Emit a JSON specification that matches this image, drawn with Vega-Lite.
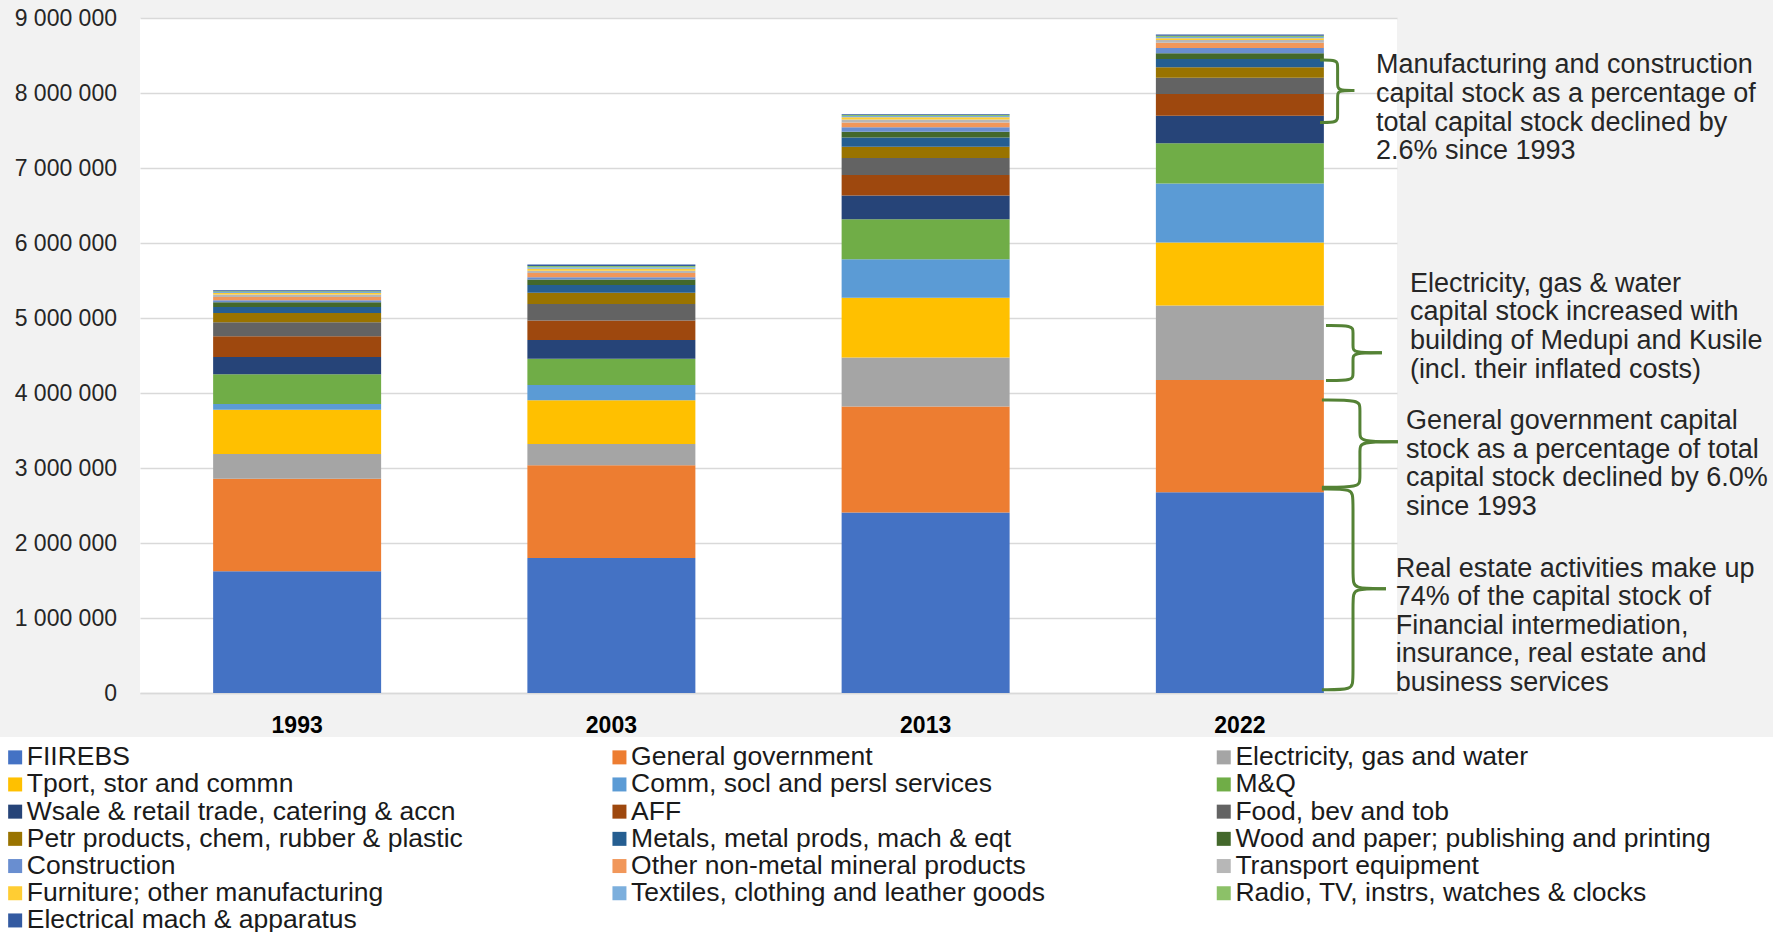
{
  "$schema": "https://vega.github.io/schema/vega-lite/v6.json",
  "autosize": {"type": "none"},
  "width": 1257,
  "height": 675,
  "padding": {"left": 140, "top": 18, "right": 376, "bottom": 239},
  "background": "#f2f2f2",
  "config": {
    "view": {"fill": "white", "stroke": null},
    "font": "Liberation Sans",
    "locale": {"number": {"decimal": ".", "thousands": " ", "grouping": [3], "currency": ["", ""]}}
  },
  "datasets": {
    "stock": [
      {"year": "1993", "k": 1, "sector": "FIIREBS", "value": 1622000},
      {"year": "1993", "k": 2, "sector": "General government", "value": 1236000},
      {"year": "1993", "k": 3, "sector": "Electricity, gas and water", "value": 329000},
      {"year": "1993", "k": 4, "sector": "Tport, stor and commn", "value": 591000},
      {"year": "1993", "k": 5, "sector": "Comm, socl and persl services", "value": 76000},
      {"year": "1993", "k": 6, "sector": "M&Q", "value": 396000},
      {"year": "1993", "k": 7, "sector": "Wsale & retail trade, catering & accn", "value": 231000},
      {"year": "1993", "k": 8, "sector": "AFF", "value": 276000},
      {"year": "1993", "k": 9, "sector": "Food, bev and tob", "value": 187000},
      {"year": "1993", "k": 10, "sector": "Petr products, chem, rubber & plastic", "value": 124000},
      {"year": "1993", "k": 11, "sector": "Metals, metal prods, mach & eqt", "value": 80000},
      {"year": "1993", "k": 12, "sector": "Wood and paper; publishing and printing", "value": 62000},
      {"year": "1993", "k": 13, "sector": "Construction", "value": 27000},
      {"year": "1993", "k": 14, "sector": "Other non-metal mineral products", "value": 44000},
      {"year": "1993", "k": 15, "sector": "Transport equipment", "value": 31000},
      {"year": "1993", "k": 16, "sector": "Furniture; other manufacturing", "value": 22000},
      {"year": "1993", "k": 17, "sector": "Textiles, clothing and leather goods", "value": 13000},
      {"year": "1993", "k": 18, "sector": "Radio, TV, instrs, watches & clocks", "value": 9000},
      {"year": "1993", "k": 19, "sector": "Electrical mach & apparatus", "value": 13000},
      {"year": "2003", "k": 1, "sector": "FIIREBS", "value": 1800000},
      {"year": "2003", "k": 2, "sector": "General government", "value": 1236000},
      {"year": "2003", "k": 3, "sector": "Electricity, gas and water", "value": 284000},
      {"year": "2003", "k": 4, "sector": "Tport, stor and commn", "value": 582000},
      {"year": "2003", "k": 5, "sector": "Comm, socl and persl services", "value": 204000},
      {"year": "2003", "k": 6, "sector": "M&Q", "value": 351000},
      {"year": "2003", "k": 7, "sector": "Wsale & retail trade, catering & accn", "value": 249000},
      {"year": "2003", "k": 8, "sector": "AFF", "value": 262000},
      {"year": "2003", "k": 9, "sector": "Food, bev and tob", "value": 218000},
      {"year": "2003", "k": 10, "sector": "Petr products, chem, rubber & plastic", "value": 151000},
      {"year": "2003", "k": 11, "sector": "Metals, metal prods, mach & eqt", "value": 102000},
      {"year": "2003", "k": 12, "sector": "Wood and paper; publishing and printing", "value": 76000},
      {"year": "2003", "k": 13, "sector": "Construction", "value": 27000},
      {"year": "2003", "k": 14, "sector": "Other non-metal mineral products", "value": 58000},
      {"year": "2003", "k": 15, "sector": "Transport equipment", "value": 31000},
      {"year": "2003", "k": 16, "sector": "Furniture; other manufacturing", "value": 27000},
      {"year": "2003", "k": 17, "sector": "Textiles, clothing and leather goods", "value": 18000},
      {"year": "2003", "k": 18, "sector": "Radio, TV, instrs, watches & clocks", "value": 18000},
      {"year": "2003", "k": 19, "sector": "Electrical mach & apparatus", "value": 18000},
      {"year": "2013", "k": 1, "sector": "FIIREBS", "value": 2408000},
      {"year": "2013", "k": 2, "sector": "General government", "value": 1413000},
      {"year": "2013", "k": 3, "sector": "Electricity, gas and water", "value": 653000},
      {"year": "2013", "k": 4, "sector": "Tport, stor and commn", "value": 796000},
      {"year": "2013", "k": 5, "sector": "Comm, socl and persl services", "value": 515000},
      {"year": "2013", "k": 6, "sector": "M&Q", "value": 531000},
      {"year": "2013", "k": 7, "sector": "Wsale & retail trade, catering & accn", "value": 316000},
      {"year": "2013", "k": 8, "sector": "AFF", "value": 276000},
      {"year": "2013", "k": 9, "sector": "Food, bev and tob", "value": 224000},
      {"year": "2013", "k": 10, "sector": "Petr products, chem, rubber & plastic", "value": 153000},
      {"year": "2013", "k": 11, "sector": "Metals, metal prods, mach & eqt", "value": 122000},
      {"year": "2013", "k": 12, "sector": "Wood and paper; publishing and printing", "value": 77000},
      {"year": "2013", "k": 13, "sector": "Construction", "value": 61000},
      {"year": "2013", "k": 14, "sector": "Other non-metal mineral products", "value": 61000},
      {"year": "2013", "k": 15, "sector": "Transport equipment", "value": 41000},
      {"year": "2013", "k": 16, "sector": "Furniture; other manufacturing", "value": 31000},
      {"year": "2013", "k": 17, "sector": "Textiles, clothing and leather goods", "value": 15000},
      {"year": "2013", "k": 18, "sector": "Radio, TV, instrs, watches & clocks", "value": 15000},
      {"year": "2013", "k": 19, "sector": "Electrical mach & apparatus", "value": 10000},
      {"year": "2022", "k": 1, "sector": "FIIREBS", "value": 2676000},
      {"year": "2022", "k": 2, "sector": "General government", "value": 1499000},
      {"year": "2022", "k": 3, "sector": "Electricity, gas and water", "value": 991000},
      {"year": "2022", "k": 4, "sector": "Tport, stor and commn", "value": 840000},
      {"year": "2022", "k": 5, "sector": "Comm, socl and persl services", "value": 787000},
      {"year": "2022", "k": 6, "sector": "M&Q", "value": 536000},
      {"year": "2022", "k": 7, "sector": "Wsale & retail trade, catering & accn", "value": 368000},
      {"year": "2022", "k": 8, "sector": "AFF", "value": 291000},
      {"year": "2022", "k": 9, "sector": "Food, bev and tob", "value": 216000},
      {"year": "2022", "k": 10, "sector": "Petr products, chem, rubber & plastic", "value": 140000},
      {"year": "2022", "k": 11, "sector": "Metals, metal prods, mach & eqt", "value": 111000},
      {"year": "2022", "k": 12, "sector": "Wood and paper; publishing and printing", "value": 76000},
      {"year": "2022", "k": 13, "sector": "Construction", "value": 70000},
      {"year": "2022", "k": 14, "sector": "Other non-metal mineral products", "value": 70000},
      {"year": "2022", "k": 15, "sector": "Transport equipment", "value": 35000},
      {"year": "2022", "k": 16, "sector": "Furniture; other manufacturing", "value": 23000},
      {"year": "2022", "k": 17, "sector": "Textiles, clothing and leather goods", "value": 18000},
      {"year": "2022", "k": 18, "sector": "Radio, TV, instrs, watches & clocks", "value": 17000},
      {"year": "2022", "k": 19, "sector": "Electrical mach & apparatus", "value": 17000}
    ],
    "braces": [
      {"seg": "b1t", "i": 0, "x": 3.755, "y": 8440000},
      {"seg": "b1t", "i": 1, "x": 3.811, "y": 8440000},
      {"seg": "b1t", "i": 2, "x": 3.811, "y": 8360000},
      {"seg": "b1t", "i": 3, "x": 3.811, "y": 8115000},
      {"seg": "b1t", "i": 4, "x": 3.811, "y": 8035000},
      {"seg": "b1t", "i": 5, "x": 3.864, "y": 8035000},
      {"seg": "b1b", "i": 0, "x": 3.755, "y": 7607000},
      {"seg": "b1b", "i": 1, "x": 3.811, "y": 7607000},
      {"seg": "b1b", "i": 2, "x": 3.811, "y": 7687000},
      {"seg": "b1b", "i": 3, "x": 3.811, "y": 7955000},
      {"seg": "b1b", "i": 4, "x": 3.811, "y": 8035000},
      {"seg": "b1b", "i": 5, "x": 3.864, "y": 8035000},
      {"seg": "b2t", "i": 0, "x": 3.774, "y": 4901000},
      {"seg": "b2t", "i": 1, "x": 3.860, "y": 4901000},
      {"seg": "b2t", "i": 2, "x": 3.860, "y": 4821000},
      {"seg": "b2t", "i": 3, "x": 3.860, "y": 4617000},
      {"seg": "b2t", "i": 4, "x": 3.860, "y": 4537000},
      {"seg": "b2t", "i": 5, "x": 3.952, "y": 4537000},
      {"seg": "b2b", "i": 0, "x": 3.774, "y": 4167000},
      {"seg": "b2b", "i": 1, "x": 3.860, "y": 4167000},
      {"seg": "b2b", "i": 2, "x": 3.860, "y": 4247000},
      {"seg": "b2b", "i": 3, "x": 3.860, "y": 4457000},
      {"seg": "b2b", "i": 4, "x": 3.860, "y": 4537000},
      {"seg": "b2b", "i": 5, "x": 3.952, "y": 4537000},
      {"seg": "b3t", "i": 0, "x": 3.761, "y": 3907000},
      {"seg": "b3t", "i": 1, "x": 3.882, "y": 3907000},
      {"seg": "b3t", "i": 2, "x": 3.882, "y": 3807000},
      {"seg": "b3t", "i": 3, "x": 3.882, "y": 3451000},
      {"seg": "b3t", "i": 4, "x": 3.882, "y": 3351000},
      {"seg": "b3t", "i": 5, "x": 4.003, "y": 3351000},
      {"seg": "b3b", "i": 0, "x": 3.761, "y": 2744000},
      {"seg": "b3b", "i": 1, "x": 3.882, "y": 2744000},
      {"seg": "b3b", "i": 2, "x": 3.882, "y": 2844000},
      {"seg": "b3b", "i": 3, "x": 3.882, "y": 3251000},
      {"seg": "b3b", "i": 4, "x": 3.882, "y": 3351000},
      {"seg": "b3b", "i": 5, "x": 4.003, "y": 3351000},
      {"seg": "b4t", "i": 0, "x": 3.761, "y": 2721000},
      {"seg": "b4t", "i": 1, "x": 3.860, "y": 2721000},
      {"seg": "b4t", "i": 2, "x": 3.860, "y": 2601000},
      {"seg": "b4t", "i": 3, "x": 3.860, "y": 1511000},
      {"seg": "b4t", "i": 4, "x": 3.860, "y": 1391000},
      {"seg": "b4t", "i": 5, "x": 3.965, "y": 1391000},
      {"seg": "b4b", "i": 0, "x": 3.761, "y": 44000},
      {"seg": "b4b", "i": 1, "x": 3.860, "y": 44000},
      {"seg": "b4b", "i": 2, "x": 3.860, "y": 164000},
      {"seg": "b4b", "i": 3, "x": 3.860, "y": 1271000},
      {"seg": "b4b", "i": 4, "x": 3.860, "y": 1391000},
      {"seg": "b4b", "i": 5, "x": 3.965, "y": 1391000}
    ],
    "notes": [
      {"x": 3.933, "y": 8367000, "note": "Manufacturing and construction\ncapital stock as a percentage of\ntotal capital stock declined by\n2.6%  since 1993"},
      {"x": 4.041, "y": 5457000, "note": "Electricity, gas & water\ncapital stock increased with\nbuilding of Medupi and Kusile\n(incl. their inflated costs)"},
      {"x": 4.029, "y": 3625000, "note": "General government capital\nstock as a percentage of total\ncapital stock declined by 6.0%\nsince 1993"},
      {"x": 3.996, "y": 1659000, "note": "Real estate activities make up\n74% of the capital stock of\nFinancial intermediation,\ninsurance, real estate and\nbusiness services"}
    ]
  },
  "layer": [
    {
      "data": {"name": "stock"},
      "mark": {"type": "bar"},
      "encoding": {
        "x": {
          "field": "year", "type": "nominal",
          "scale": {"paddingInner": 0.4654, "paddingOuter": 0.2327},
          "axis": {"title": null, "labelAngle": 0, "labelFontSize": 23, "labelFontWeight": "bold", "labelColor": "#000000", "labelPadding": 21, "ticks": false, "domain": true, "domainColor": "#d9d9d9", "domainWidth": 1.3, "grid": false}
        },
        "y": {
          "field": "value", "type": "quantitative", "stack": "zero",
          "scale": {"domain": [0, 9000000], "nice": false},
          "axis": {"title": null, "values": [0, 1000000, 2000000, 3000000, 4000000, 5000000, 6000000, 7000000, 8000000, 9000000], "format": ",d", "labelFontSize": 23, "labelColor": "#262626", "labelPadding": 23.5, "ticks": false, "domain": false, "grid": true, "gridColor": "#d9d9d9", "gridWidth": 1.3}
        },
        "color": {
          "field": "sector", "type": "nominal",
          "scale": {
            "domain": ["FIIREBS", "General government", "Electricity, gas and water", "Tport, stor and commn", "Comm, socl and persl services", "M&Q", "Wsale & retail trade, catering & accn", "AFF", "Food, bev and tob", "Petr products, chem, rubber & plastic", "Metals, metal prods, mach & eqt", "Wood and paper; publishing and printing", "Construction", "Other non-metal mineral products", "Transport equipment", "Furniture; other manufacturing", "Textiles, clothing and leather goods", "Radio, TV, instrs, watches & clocks", "Electrical mach & apparatus"],
            "range": ["#4472C4", "#ED7D31", "#A5A5A5", "#FFC000", "#5B9BD5", "#70AD47", "#264478", "#9E480E", "#636363", "#997300", "#255E91", "#43682B", "#698ED0", "#F1975A", "#B7B7B7", "#FFCD33", "#7CAFDD", "#8CC168", "#335AA1"]
          },
          "legend": {
            "title": " ", "titleOrient": "right", "titlePadding": 60, "titleFontSize": 10,
            "orient": "none", "legendX": -145.1, "legendY": 719,
            "direction": "horizontal", "columns": 3, "gridAlign": "all",
            "columnPadding": 103.3, "rowPadding": 0.2,
            "symbolType": "square", "symbolSize": 196, "symbolStrokeWidth": 0,
            "labelOffset": -1.6, "labelFontSize": 26.5, "labelColor": "#1a1a1a", "labelLimit": 1000,
            "fillColor": "white", "padding": 7
          }
        },
        "order": {"field": "k", "type": "quantitative", "sort": "ascending"}
      }
    },
    {
      "data": {"name": "braces"},
      "mark": {"type": "line", "interpolate": "basis", "color": "#548235", "strokeWidth": 3},
      "encoding": {
        "x": {"field": "x", "type": "quantitative", "scale": {"domain": [0, 4], "nice": false, "zero": false}, "axis": null},
        "y": {"field": "y", "type": "quantitative", "scale": {"domain": [0, 9000000], "nice": false}},
        "detail": {"field": "seg", "type": "nominal"},
        "order": {"field": "i", "type": "quantitative"}
      }
    },
    {
      "data": {"name": "notes"},
      "mark": {"type": "text", "align": "left", "baseline": "middle", "fontSize": 27, "lineHeight": 28.6, "lineBreak": "\n", "color": "#262626"},
      "encoding": {
        "x": {"field": "x", "type": "quantitative", "scale": {"domain": [0, 4], "nice": false, "zero": false}, "axis": null},
        "y": {"field": "y", "type": "quantitative", "scale": {"domain": [0, 9000000], "nice": false}},
        "text": {"field": "note", "type": "nominal"}
      }
    }
  ],
  "resolve": {"scale": {"x": "independent"}}
}
